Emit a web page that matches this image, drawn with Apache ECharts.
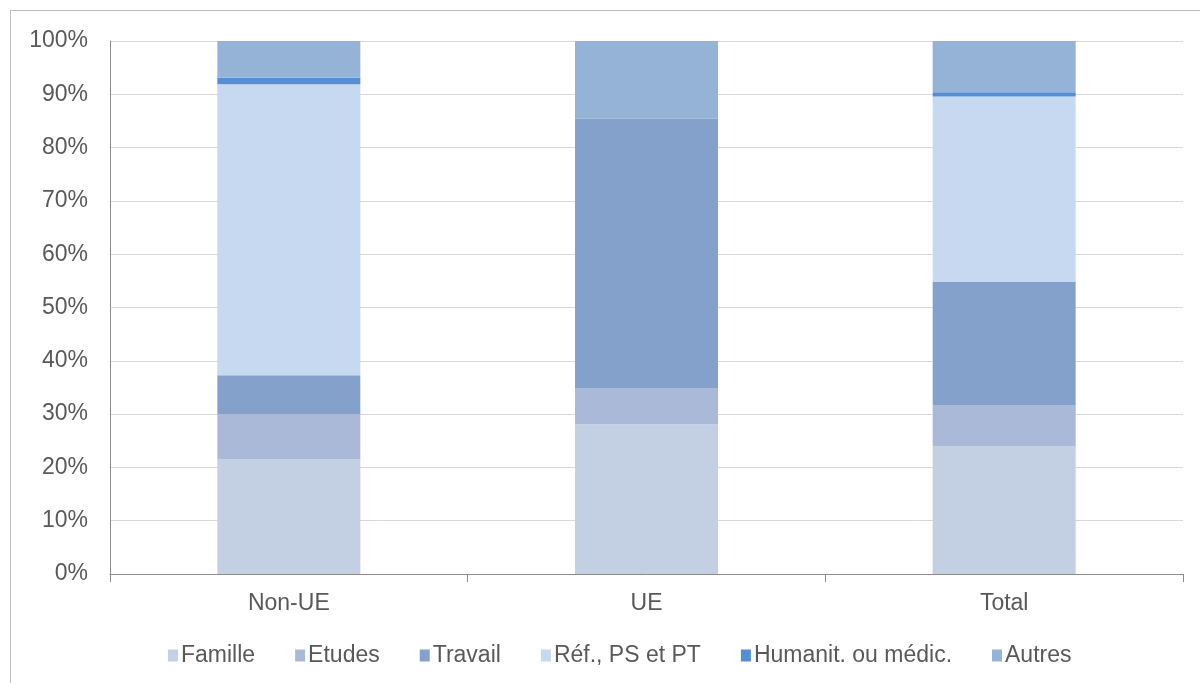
<!DOCTYPE html>
<html>
<head>
<meta charset="utf-8">
<script src="https://cdn.jsdelivr.net/npm/echarts@6/dist/echarts.min.js"></script>
<style>
  html, body { margin: 0; padding: 0; overflow: hidden; background: #fff; }
  #frame { position: absolute; left: 10px; top: 10px; width: 1200px; height: 700px; border: 1px solid #bfbfbf; }
  #chart { position: absolute; left: 0; top: 0; width: 1200px; height: 683px; }
</style>
</head>
<body>
<div id="frame"></div>
<div id="chart"></div>
<script>
const categories = ['Non-UE', 'UE', 'Total']
const seriesNames = ['Famille', 'Etudes', 'Travail', 'Réf., PS et PT', 'Humanit. ou médic.', 'Autres']
// parts en % par catégorie
const famille = [21.5, 28.1, 23.9]
const etudes = [8.5, 6.8, 7.8]
const travail = [7.3, 50.5, 23.1]
const refugies = [54.6, 0, 34.8]
const humanit = [1.2, 0, 0.8]
const autres = [6.9, 14.6, 9.6]
const yTicks = [0, 10, 20, 30, 40, 50, 60, 70, 80, 90, 100]

const colors = ['#c3cfe2', '#aab9d7', '#84a1cb', '#c6d9f1', '#558ed5', '#95b3d7']
const values = [famille, etudes, travail, refugies, humanit, autres]

const chart = echarts.init(document.getElementById('chart'))
const option = {
  animation: false,
  textStyle: { fontFamily: 'Liberation Sans, Arial, sans-serif' },
  grid: { left: 110, right: 17, top: 41, bottom: 109 },
  legend: {
    bottom: 11,
    left: 163,
    itemWidth: 10,
    itemHeight: 12,
    itemGap: 40,
    icon: 'rect',
    textStyle: { color: '#595959', fontSize: 23, padding: [0, 0, 0, -2] },
    data: seriesNames
  },
  xAxis: {
    type: 'category',
    data: categories,
    axisLine: { lineStyle: { color: '#8c8c8c', width: 1 } },
    axisTick: { show: true, length: 8, alignWithLabel: false, lineStyle: { color: '#8c8c8c' } },
    axisLabel: { color: '#595959', fontSize: 23, margin: 18 }
  },
  yAxis: {
    type: 'value',
    min: 0,
    max: 100,
    interval: 10,
    axisLine: { show: true, lineStyle: { color: '#8c8c8c' } },
    axisTick: { show: false },
    axisLabel: {
      color: '#595959',
      fontSize: 23,
      margin: 22,
      formatter: v => (yTicks.includes(v) ? v + '%' : '')
    },
    splitLine: { lineStyle: { color: '#d9d9d9', width: 1 } }
  },
  series: seriesNames.map((name, i) => ({
    name: name,
    type: 'bar',
    stack: 'total',
    barWidth: 143,
    itemStyle: { color: colors[i] },
    data: values[i]
  }))
}
chart.setOption(option)
</script>
</body>
</html>
